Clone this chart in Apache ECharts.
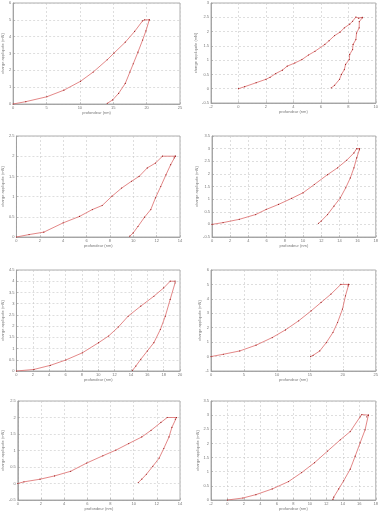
<!DOCTYPE html>
<html><head><meta charset="utf-8">
<script src="https://cdn.jsdelivr.net/npm/echarts@6/dist/echarts.min.js"></script>
<style>html,body{margin:0;padding:0;background:#fff}#c{width:381px;height:512px}</style>
</head><body><div id="c"></div>
<script>
// axis ranges per panel: [min, max, interval]
const xAxes = [[0,25,5],[-2,10,2],[0,14,2],[0,18,2],[0,20,2],[0,25,5],[0,14,2],[-2,18,2]];
const yAxes = [[0,6,1],[-0.5,3,0.5],[0,2.5,0.5],[-0.5,3.5,0.5],[0,4.5,0.5],[-1,6,1],[-0.5,2.5,0.5],[0,3.5,0.5]];
const xName = "profondeur (nm)";
const yName = "charge appliquée (mN)";

// loading curves [depth, load]
const load1 = [[0,0],[1.9,0.14],[5.05,0.43],[7.6,0.82],[10.1,1.35],[12,1.9],[14.1,2.63],[15.1,3.02],[16.8,3.67],[18.2,4.31],[19.4,4.94],[19.7,5.0],[20.4,5.0]];
const load2 = [[0,0],[0.45,0.07],[1.29,0.21],[2,0.33],[2.3,0.4],[2.71,0.53],[3.2,0.65],[3.55,0.79],[4.1,0.9],[4.62,1.02],[5.1,1.18],[5.57,1.31],[6.29,1.55],[6.6,1.68],[7,1.86],[7.4,1.98],[7.71,2.13],[8.1,2.26],[8.31,2.36],[8.55,2.51],[8.75,2.47],[9.02,2.5]];
const load3 = [[0,0],[1.08,0.06],[2.34,0.12],[4,0.35],[5.4,0.51],[6.5,0.68],[7.34,0.78],[8.18,1.01],[9,1.21],[9.85,1.38],[10.5,1.5],[11.2,1.71],[11.9,1.83],[12.5,2.0],[13.6,2.0]];
const load4 = [[0,0],[1.22,0.07],[3.0,0.2],[4.8,0.39],[5.95,0.59],[7.31,0.79],[8.75,1.03],[10,1.25],[11.25,1.58],[12.7,1.97],[13.8,2.24],[14.8,2.54],[15.6,2.83],[15.9,3.0],[16.2,3.0]];
const load5 = [[0,0],[2.14,0.07],[4.13,0.25],[6.03,0.49],[8.06,0.81],[10.04,1.26],[11.27,1.56],[12.46,1.96],[13.65,2.44],[15.2,2.89],[16.8,3.33],[18,3.7],[18.8,4.0],[19.4,4.0]];
const load6 = [[0,0],[1.88,0.16],[4.36,0.39],[6.83,0.79],[9.3,1.32],[11.3,1.85],[13.3,2.48],[15.2,3.17],[16.7,3.75],[18.2,4.33],[19.7,5.0],[20.9,5.0]];
const load7 = [[0,0],[0.53,0.05],[1.92,0.13],[3.17,0.23],[4.56,0.37],[5.95,0.62],[7.34,0.84],[8.46,1.01],[9.57,1.21],[10.7,1.41],[11.5,1.61],[12.35,1.85],[12.9,2.0],[13.7,2.0]];
const load8 = [[0,0],[1.87,0.07],[3.45,0.19],[5.43,0.39],[7.4,0.65],[9.0,0.97],[10.57,1.32],[12.15,1.73],[13.7,2.13],[14.9,2.42],[16.1,2.94],[16.3,3.02],[17.1,3.0]];

// unloading curves [depth, load]
const unload1 = [[20.4,5.0],[19.9,4.35],[19.4,3.8],[18.7,3.08],[18,2.39],[17.5,1.9],[16.8,1.22],[15.8,0.63],[14.9,0.24],[14.1,0.04]];
const unload2 = [[9.02,2.48],[8.8,2.35],[8.79,2.13],[8.6,1.95],[8.55,1.72],[8.35,1.55],[8.31,1.37],[8.1,1.2],[8.07,1.02],[7.8,0.85],[7.71,0.67],[7.5,0.5],[7.36,0.33],[7,0.12],[6.76,0.03]];
const unload3 = [[13.6,2.0],[13.5,1.96],[13.2,1.79],[12.8,1.54],[12.35,1.25],[11.9,0.97],[11.5,0.68],[10.96,0.49],[10.4,0.26],[9.99,0.1],[9.7,0.02]];
const unload4 = [[16.2,2.96],[15.9,2.63],[15.6,2.24],[15.2,1.84],[14.7,1.45],[14.1,1.05],[13.4,0.72],[12.7,0.39],[12,0.13],[11.7,0.04]];
const unload5 = [[19.4,3.93],[18.8,3.19],[18.2,2.44],[17.6,1.85],[16.8,1.26],[16.0,0.89],[15.2,0.52],[14.6,0.22],[14.2,0.03]];
const unload6 = [[20.9,5.0],[20.8,4.9],[20.4,4.21],[19.95,3.29],[19.2,2.36],[18.5,1.67],[17.5,0.97],[16.5,0.39],[15.5,0.09],[15.1,0]];
const unload7 = [[13.7,2.0],[13.6,1.95],[13.3,1.7],[13.05,1.41],[12.6,1.06],[12.2,0.77],[11.65,0.52],[11.1,0.28],[10.7,0.13],[10.4,0.03]];
const unload8 = [[17.1,3.0],[16.9,2.94],[16.7,2.48],[16.1,2.02],[15.5,1.55],[14.9,1.09],[14.1,0.68],[13.5,0.39],[12.9,0.1],[12.8,0.02]];

const loads = [load1,load2,load3,load4,load5,load6,load7,load8];
const unloads = [unload1,unload2,unload3,unload4,unload5,unload6,unload7,unload8];

const grids = [
  {left:7, top:3, width:173, height:101},
  {left:211, top:3, width:168, height:100},
  {left:12, top:136, width:168, height:101},
  {left:212, top:136, width:167, height:101},
  {left:12, top:270, width:168, height:101},
  {left:211, top:270, width:168, height:101},
  {left:12, top:401, width:168, height:101},
  {left:211, top:401, width:168, height:101}
];

const gridLine = {show:true, lineStyle:{color:'#c8c8c8', width:0.6, type:[2,2]}};
const lbl = {fontSize:4, color:'#777', margin:2};
const option = {
  backgroundColor:'#fff', animation:false,
  grid: grids.map(g => Object.assign({show:true, borderColor:'#999', borderWidth:0.8, backgroundColor:'#fff'}, g)),
  xAxis: xAxes.map((a,i) => ({type:'value', gridIndex:i, min:a[0], max:a[1], interval:a[2],
    name:xName, nameLocation:'middle', nameGap:7, nameTextStyle:{fontSize:4, color:'#777'},
    axisLine:{show:true, onZero:false, lineStyle:{color:'#999', width:0.8}},
    axisTick:{show:true, inside:true, length:2, lineStyle:{color:'#999', width:0.5}},
    axisLabel:lbl, splitLine:gridLine})),
  yAxis: yAxes.map((a,i) => ({type:'value', gridIndex:i, min:a[0], max:a[1], interval:a[2],
    name:yName, nameLocation:'middle', nameGap:8, nameTextStyle:{fontSize:4, color:'#777'},
    axisLine:{show:true, onZero:false, lineStyle:{color:'#999', width:0.8}},
    axisTick:{show:true, inside:true, length:2, lineStyle:{color:'#999', width:0.5}},
    axisLabel:lbl, splitLine:gridLine})),
  series: []
};
loads.forEach((d,i) => {
  [d, unloads[i]].forEach(arr => option.series.push({
    type:'line', xAxisIndex:i, yAxisIndex:i, data:arr, smooth:false,
    symbol:'circle', symbolSize:1.2, itemStyle:{color:'#9b2020'},
    lineStyle:{color:'#dc6a6a', width:0.8}
  }));
});
const chart = echarts.init(document.getElementById('c'), null, {renderer:'canvas'});
chart.setOption(option);
</script></body></html>
